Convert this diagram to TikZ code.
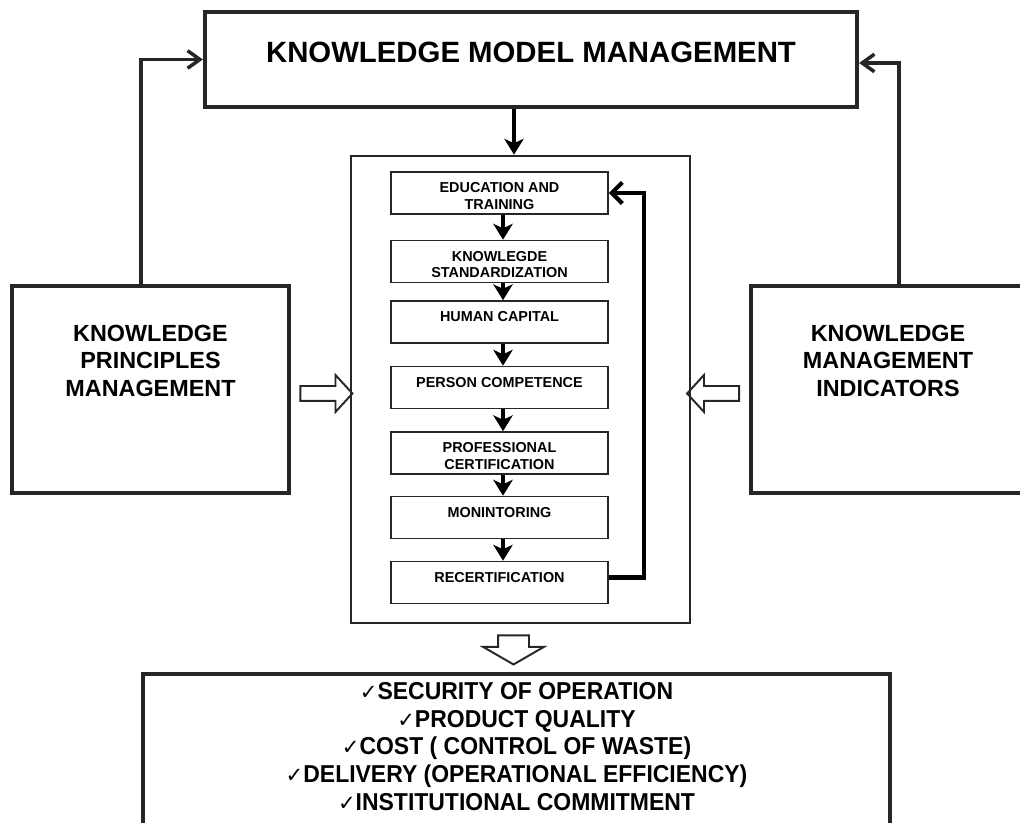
\documentclass[tikz,border=0pt]{standalone}
\usepackage{fontspec}
\setmainfont{Liberation Sans}
\newfontfamily\narrowfont[FakeStretch=0.94]{Liberation Sans}
\newfontfamily\tickfont{DejaVu Sans}
\newcommand{\tickmark}{{\tickfont\mdseries\fontsize{12}{12}\selectfont ✓}}
\usetikzlibrary{arrows.meta,shapes.arrows,positioning}

\begin{document}
\begin{tikzpicture}[
    bigbox/.style={draw=black!85, line width=2.4pt, inner sep=0pt},
    corebox/.style={draw=black!85, line width=1.5pt, inner sep=0pt},
    stepbox/.style={draw=black!85, line width=0.9pt, inner sep=0pt, minimum width=4.34cm, minimum height=0.84cm},
    titletext/.style={inner sep=0pt, align=center, font=\fontsize{16.7}{20}\selectfont\bfseries},
    sidetext/.style={inner sep=0pt, align=center, font=\fontsize{13.3}{15.9}\selectfont\bfseries},
    steptext/.style={inner sep=0pt, align=center, font=\fontsize{8.2}{9.6}\selectfont\bfseries},
    benefit/.style={inner sep=0pt, align=center, font=\narrowfont\fontsize{13.9}{15.7}\selectfont\bfseries},
    flow/.style={draw=black, line width=2pt, -{Stealth[length=9pt, width=11pt, inset=2.5pt]}},
    loopback/.style={draw=black, line width=2.4pt, -{Straight Barb[length=6pt, width=12pt]}},
    link/.style={draw=black!85, line width=2pt, -{Straight Barb[length=7pt, width=10pt]}},
    hollow/.style={draw=black!85, line width=1.1pt, single arrow, inner xsep=0pt, minimum width=0pt}
  ]
  \useasboundingbox (0,0) rectangle (20.4,16.46);
  \clip (0,0) rectangle (20.4,16.46);

  % outer boxes
  \node[bigbox, minimum width=13.04cm, minimum height=1.9cm] (kmm) at (10.62,15.27) {};
  \node[titletext, below=0.63cm of kmm.north] (kmm-t) {KNOWLEDGE MODEL MANAGEMENT};
  \node[bigbox, minimum width=5.54cm, minimum height=4.14cm] (kpm) at (3.01,8.67) {};
  \node[sidetext, below=0.81cm of kpm.north] (kpm-t) {KNOWLEDGE\\PRINCIPLES\\MANAGEMENT};
  \node[bigbox, minimum width=5.48cm, minimum height=4.14cm] (kmi) at (17.76,8.67) {};
  \node[sidetext, below=0.81cm of kmi.north] (kmi-t) {KNOWLEDGE\\MANAGEMENT\\INDICATORS};
  \node[corebox, minimum width=6.78cm, minimum height=9.34cm] (core) at (10.41,8.67) {};
  \node[bigbox, minimum width=14.94cm, minimum height=3.72cm] (res) at (10.33,1.12) {};
  \node[benefit, below=0.21cm of res.north] (res-t) {\tickmark SECURITY OF OPERATION\\
    \tickmark PRODUCT QUALITY\\
    \tickmark COST ( CONTROL OF WASTE)\\
    \tickmark DELIVERY (OPERATIONAL EFFICIENCY)\\
    \tickmark INSTITUTIONAL COMMITMENT};

  % steps inside the core box
  \foreach \n/\y/\t in {s1/12.60/{EDUCATION AND\\TRAINING},
      s2/11.23/{KNOWLEGDE\\STANDARDIZATION},
      s3/10.02/{HUMAN CAPITAL},
      s4/8.71/{PERSON COMPETENCE},
      s5/7.40/{PROFESSIONAL\\CERTIFICATION},
      s6/6.11/{MONINTORING},
      s7/4.81/{RECERTIFICATION}} {
    \node[stepbox] (\n) at (9.99,\y) {};
    \node[steptext, below=0.22cm of \n.north] (\n-t) {\t};
  }
  \foreach \a/\b in {s1/s2,s2/s3,s3/s4,s4/s5,s5/s6,s6/s7}
    \draw[flow] ([xshift=0.07cm]\a.south) -- ([xshift=0.07cm]\b.north);
  \draw[loopback] ([yshift=0.1cm]s7.east) -- ++(0.7,0) |- (s1.east);

  % connectors
  \coordinate (drop) at ([xshift=-0.13cm]core.north);
  \draw[flow] (drop |- kmm.south) -- (drop);
  \draw[link] ([xshift=-0.19cm]kpm.north) |- (kmm.west);
  \draw[link] ([xshift=0.22cm]kmi.north) |- ([yshift=-0.07cm]kmm.east);

  % hollow arrows
  \node[hollow, minimum height=1.04cm, inner ysep=0.13cm, single arrow head extend=0.22cm, single arrow tip angle=95] (in-l) at (6.46,8.59) {};
  \node[hollow, rotate=180, minimum height=1.04cm, inner ysep=0.13cm, single arrow head extend=0.22cm, single arrow tip angle=95] (in-r) at (14.33,8.59) {};
  \node[hollow, rotate=270, minimum height=0.58cm, inner ysep=0.29cm, single arrow head extend=0.3cm, single arrow tip angle=120] (out) at (10.27,3.55) {};
\end{tikzpicture}
\end{document}
